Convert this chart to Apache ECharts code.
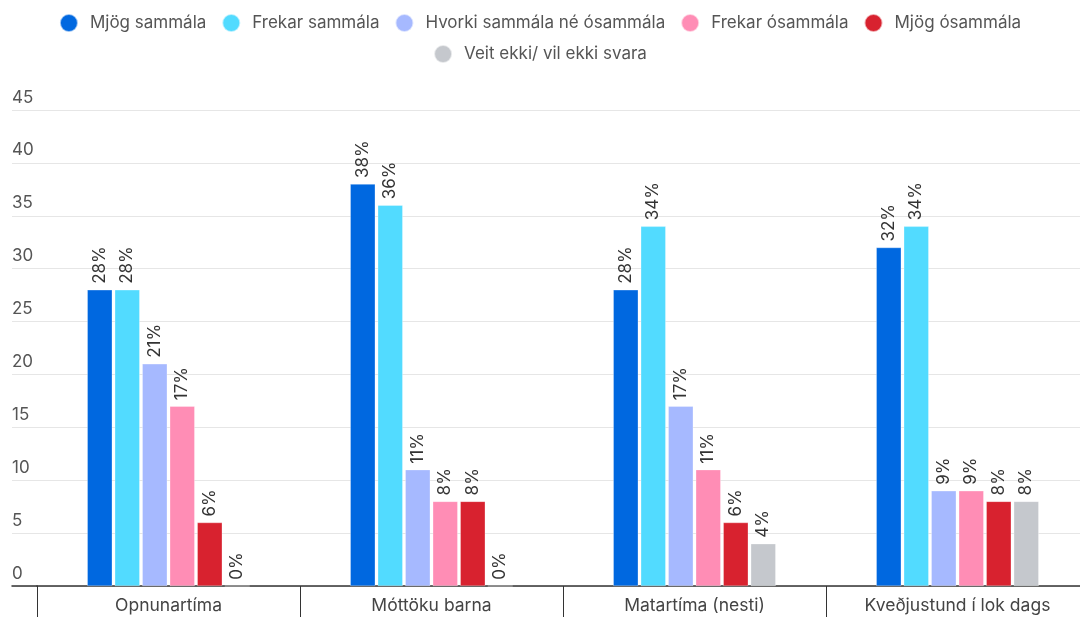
<!DOCTYPE html>
<html>
<head>
<meta charset="utf-8">
<script src="https://cdn.jsdelivr.net/npm/echarts@6/dist/echarts.min.js"></script>
<style>
  html, body { margin: 0; padding: 0; background: #fff; }
  #chart { width: 1080px; height: 617px; }
</style>
</head>
<body>
<div id="chart"></div>
<script>
// Flokkar og svör
const categories = ['Opnunartíma', 'Móttöku barna', 'Matartíma (nesti)', 'Kveðjustund í lok dags'];
const seriesNames = ['Mjög sammála', 'Frekar sammála', 'Hvorki sammála né ósammála', 'Frekar ósammála', 'Mjög ósammála', 'Veit ekki/ vil ekki svara'];
const seriesColors = ['#0068e0', '#52dbff', '#a6b9ff', '#ff8db5', '#d8222f', '#c5c8cd'];
const mjogSammala = [28, 38, 28, 32];
const frekarSammala = [28, 36, 34, 34];
const hvorki = [21, 11, 17, 9];
const frekarOsammala = [17, 8, 11, 9];
const mjogOsammala = [6, 8, 6, 8];
const veitEkki = [0, 0, 4, 8];
const values = [mjogSammala, frekarSammala, hvorki, frekarOsammala, mjogOsammala, veitEkki];
const yMin = 0, yMax = 45, yStep = 5;

const FONT = 'Inter, "Noto Sans", sans-serif';
const chart = echarts.init(document.getElementById('chart'));

// tvær línur í skýringu, hvor um sig miðjuð
const legendBase = {
  left: 'center',
  icon: 'circle',
  itemWidth: 18,
  itemHeight: 18,
  itemGap: 15,
  textStyle: { fontSize: 17, color: '#555', padding: [0, 8, 0, 7], fontFamily: FONT }
};

chart.setOption({
  backgroundColor: '#fff',
  animation: false,
  textStyle: { fontFamily: FONT },
  color: seriesColors,
  legend: [
    Object.assign({}, legendBase, { top: 8, data: seriesNames.slice(0, 5) }),
    Object.assign({}, legendBase, { top: 39, data: seriesNames.slice(5) })
  ],
  grid: [
    { left: 37, width: 1052, top: 110, bottom: 31, outerBoundsMode: 'none', containLabel: false },
    { left: 12, width: 25, top: 110, bottom: 31, outerBoundsMode: 'none', containLabel: false }
  ],
  xAxis: [
    {
      type: 'category', gridIndex: 0, data: categories,
      axisLine: { lineStyle: { color: '#333', width: 1.5 } },
      axisTick: { show: true, interval: 0, length: 31, lineStyle: { color: '#333' } },
      axisLabel: { fontSize: 17.5, color: '#444', margin: 11, fontFamily: FONT }
    },
    {
      type: 'category', gridIndex: 1, data: [''],
      axisLine: { lineStyle: { color: '#333', width: 1.5 } },
      axisTick: { show: false }, axisLabel: { show: false }
    }
  ],
  yAxis: [
    {
      type: 'value', gridIndex: 0, min: yMin, max: yMax, interval: yStep,
      axisLabel: { show: false },
      axisLine: { show: false }, axisTick: { show: false },
      splitLine: { lineStyle: { color: '#e6e6e6' } }
    },
    {
      type: 'value', gridIndex: 1, min: yMin, max: yMax, interval: yStep,
      axisLine: { show: false }, axisTick: { show: false },
      axisLabel: { inside: true, margin: 0, fontSize: 17, color: '#555', verticalAlign: 'bottom', padding: [0, 0, 4, 0], fontFamily: FONT },
      splitLine: { lineStyle: { color: '#e6e6e6' } }
    }
  ],
  series: seriesNames.map((name, i) => ({
    name,
    type: 'bar',
    xAxisIndex: 0, yAxisIndex: 0,
    data: values[i],
    barWidth: 25,
    barGap: '10%',
    itemStyle: { color: seriesColors[i], borderColor: 'rgba(255,255,255,0.6)', borderWidth: 0.5 },
    label: {
      show: true, position: 'top', rotate: 90, align: 'left', verticalAlign: 'middle',
      distance: 6, formatter: '{c}%', fontSize: 17, color: '#333', fontFamily: FONT
    }
  }))
});
</script>
</body>
</html>
